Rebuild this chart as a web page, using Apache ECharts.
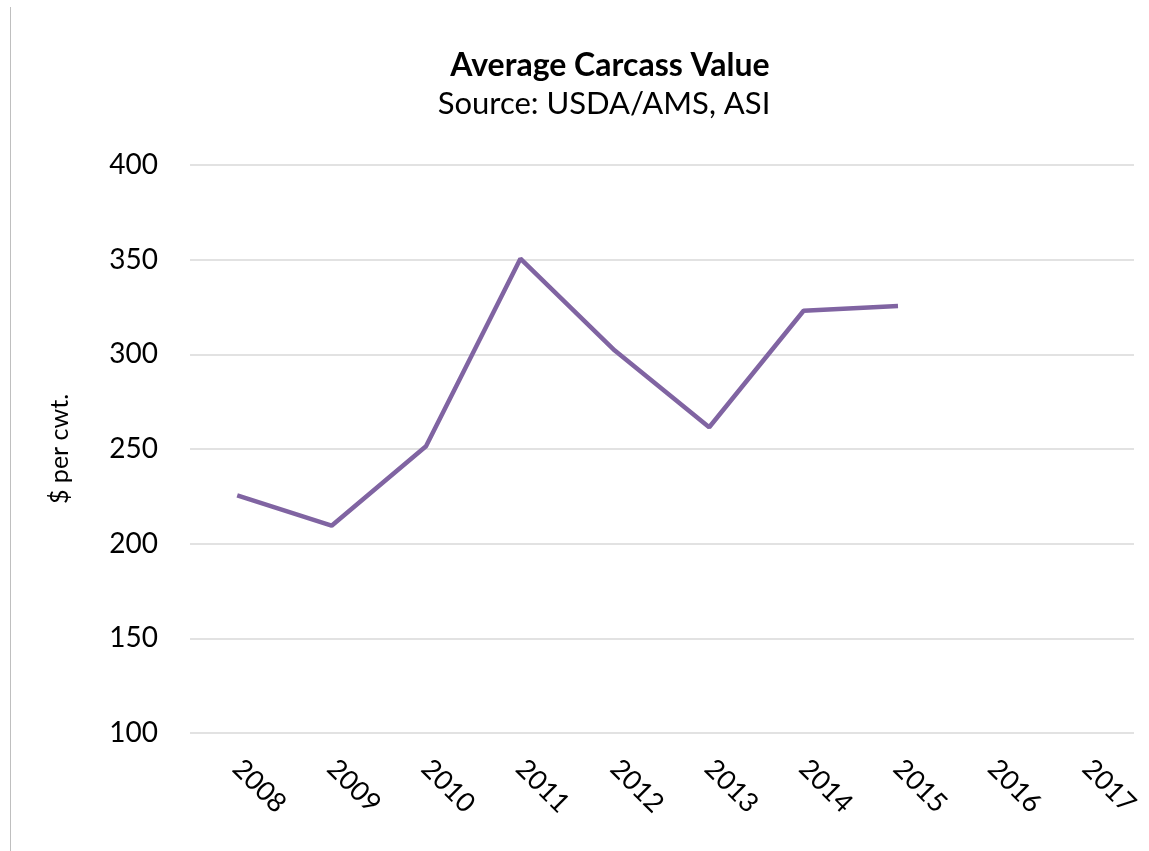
<!DOCTYPE html>
<html>
<head>
<meta charset="utf-8">
<script src="https://cdn.jsdelivr.net/npm/echarts@6/dist/echarts.min.js"></script>
<style>
    html, body {margin: 0; padding: 0; background: #fff;}
    #main {width: 1149px; height: 851px;}
</style>
</head>
<body>
<div id="main"></div>
<script>
// values
const years = ['2008', '2009', '2010', '2011', '2012', '2013', '2014', '2015', '2016', '2017'];
const carcassValue = [225.5, 209.5, 251.5, 350.5, 302, 261.5, 323, 325.5, null, null];
const yTicks = [100, 150, 200, 250, 300, 350, 400];

const fontFamily = 'Lato, "Open Sans", sans-serif';

const option = {
    animation: false,
    backgroundColor: '#fff',
    title: [
        {
            text: 'Average Carcass Value',
            left: 605,
            textAlign: 'center',
            top: 45,
            textStyle: {fontFamily: fontFamily, fontSize: 32, fontWeight: 'bold', color: '#000'}
        },
        {
            text: 'Source: USDA/AMS, ASI',
            left: 599,
            textAlign: 'center',
            top: 83,
            textStyle: {fontFamily: fontFamily, fontSize: 31, fontWeight: 'normal', color: '#000'}
        }
    ],
    graphic: [
        {
            type: 'line',
            shape: {x1: 10.5, y1: 7, x2: 10.5, y2: 851},
            style: {stroke: '#bfbfbf', lineWidth: 1}
        }
    ],
    grid: {left: 190, right: 15, top: 165, bottom: 118},
    xAxis: {
        type: 'category',
        data: years,
        axisLine: {show: false},
        axisTick: {show: false},
        axisLabel: {
            rotate: -45,
            margin: 31,
            fontFamily: fontFamily,
            fontSize: 27,
            color: '#000'
        }
    },
    yAxis: {
        type: 'value',
        min: yTicks[0],
        max: yTicks[yTicks.length - 1],
        interval: 50,
        name: '$ per cwt.',
        nameLocation: 'middle',
        nameRotate: 90,
        nameGap: 118,
        nameTextStyle: {fontFamily: fontFamily, fontSize: 25, color: '#000'},
        axisLine: {show: false},
        axisTick: {show: false},
        axisLabel: {margin: 32, fontFamily: fontFamily, fontSize: 28, color: '#000'},
        splitLine: {lineStyle: {color: '#d9d9d9', width: 1.5}}
    },
    series: [
        {
            name: 'Average Carcass Value',
            type: 'line',
            data: carcassValue,
            symbol: 'none',
            lineStyle: {color: '#8064a2', width: 4.5}
        }
    ]
};

const myChart = echarts.init(document.getElementById('main'));
myChart.setOption(option);
</script>
</body>
</html>
